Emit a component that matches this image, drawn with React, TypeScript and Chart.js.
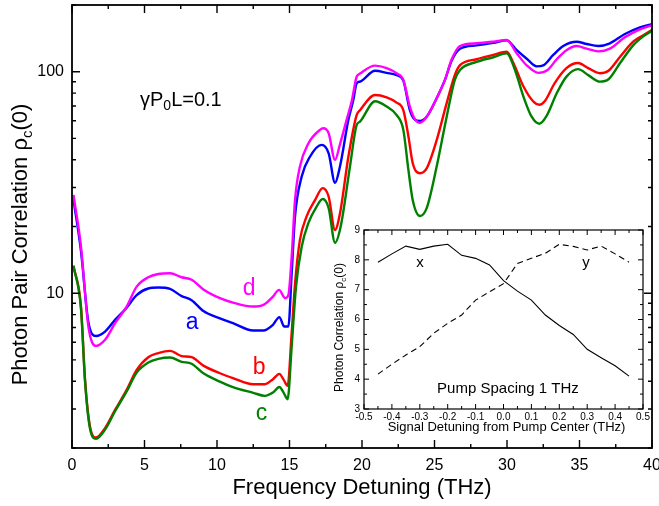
import React, { useEffect, useRef } from 'react';
import { Chart, registerables } from 'chart.js';

Chart.register(...registerables);

const FONT = '"Liberation Sans", Arial, Helvetica, sans-serif';

// ---------- main chart data (Frequency detuning, THz) ----------
// curve d (magenta)
const dX = [0.1, 0.62, 1.13, 1.66, 2.28, 2.97, 3.77, 4.46, 5.26, 5.95, 6.76, 7.56, 8.25, 9.06, 10.2, 11.1, 12.5, 13.2, 13.86, 14.28, 14.7, 14.92, 15.15, 15.38, 15.72, 16.3, 17.1, 17.33, 17.7, 18.14, 18.48, 18.94, 19.3, 19.63, 19.86, 20.9, 21.7, 22.39, 22.85, 23.3, 23.66, 24.0, 24.46, 25.15, 25.72, 26.18, 26.76, 27.9, 29.06, 29.98, 30.67, 31.36, 32.16, 32.8, 33.43, 34.1, 34.8, 35.5, 36.3, 37.1, 38.1, 39.17, 39.98];
const dY = [27.8, 16.2, 7.06, 5.78, 6.16, 7.32, 8.7, 10.7, 11.8, 12.2, 12.3, 11.8, 11.5, 10.4, 9.5, 9.07, 8.7, 8.85, 9.65, 10.35, 9.5, 9.8, 14.6, 26.3, 37.3, 47.4, 54.6, 55.5, 52.7, 40, 47, 60.6, 74, 94.9, 98, 106.5, 103.8, 98.4, 91.8, 69.6, 60.9, 58.8, 62.6, 75.9, 91.8, 113.4, 130.6, 134.3, 136.6, 138.9, 121, 106.8, 98.8, 101.7, 113.8, 125, 130.6, 127, 123.5, 127, 142.7, 155.3, 162];
// curve a (blue)
const aX = [0.1, 0.62, 1.13, 1.66, 2.28, 2.97, 3.77, 4.46, 5.26, 5.95, 6.76, 7.56, 8.25, 9.06, 10.2, 11.1, 12.5, 13.2, 13.86, 14.3, 14.64, 14.92, 15.15, 15.38, 15.84, 16.41, 17.22, 17.7, 18.14, 18.48, 19.06, 19.4, 19.63, 19.86, 20.9, 21.7, 22.39, 22.85, 23.3, 23.66, 24.0, 24.46, 25.15, 25.72, 26.18, 26.76, 27.9, 29.06, 29.98, 30.67, 31.36, 32.05, 32.5, 33.19, 33.88, 34.8, 35.5, 36.3, 37.1, 38.1, 39.17, 39.98];
const aY = [26.5, 15.5, 7.4, 6.41, 6.71, 7.58, 8.6, 9.8, 10.5, 10.6, 10.45, 9.7, 9.3, 8.3, 7.7, 7.32, 6.78, 6.78, 7.2, 7.8, 7.07, 7.07, 12.3, 22.2, 33.6, 41.3, 46.7, 42.8, 31.5, 37.3, 60.6, 74.5, 88.6, 90.2, 100.9, 98.8, 96.5, 91.1, 67, 60.6, 59.9, 62.6, 75.9, 91.8, 112, 127, 131.5, 135, 138.4, 125, 114.4, 105.7, 106.8, 119, 130.6, 136.6, 133.3, 130.6, 134.3, 147.6, 158.5, 164];
// curve b (red)
const bX = [0.1, 0.62, 0.9, 1.24, 1.66, 2.28, 2.97, 3.77, 4.46, 5.26, 5.95, 6.76, 7.56, 8.25, 9.06, 10.2, 11.1, 12.5, 13.3, 13.86, 14.3, 14.6, 14.87, 15.15, 15.38, 15.72, 16.18, 16.76, 17.29, 17.7, 18.14, 18.48, 19.06, 19.63, 19.86, 20.9, 21.7, 22.39, 22.85, 23.2, 23.5, 24.0, 24.46, 25.15, 25.84, 26.4, 26.76, 27.9, 29.06, 29.98, 30.44, 31.13, 31.8, 32.23, 32.6, 33.28, 34.1, 34.9, 35.6, 36.4, 37.0, 37.8, 38.7, 39.4, 39.98];
const bY = [13.3, 8.7, 4.06, 2.5, 2.23, 2.46, 2.97, 3.66, 4.5, 5.14, 5.36, 5.49, 5.2, 5.14, 4.71, 4.35, 4.14, 3.88, 3.88, 4.09, 4.32, 4.06, 3.82, 6.6, 11.0, 17.4, 22.2, 26.3, 29.8, 27.3, 19.3, 22.9, 41.3, 63.7, 67, 78.5, 76.6, 72.5, 67, 51.1, 38.6, 34.8, 36.6, 49.1, 72.1, 96.5, 107, 113.8, 119, 123, 109.4, 85.9, 73.5, 70.9, 73.5, 88.6, 103.8, 109.4, 103.8, 98.4, 101, 116.8, 136.6, 146, 154];
// curve c (green)
const cX = [0.1, 0.62, 0.9, 1.24, 1.66, 2.28, 2.97, 3.77, 4.46, 5.26, 5.95, 6.76, 7.56, 8.25, 9.06, 10.2, 11.1, 12.5, 13.3, 13.86, 14.3, 14.6, 14.87, 15.15, 15.45, 15.84, 16.3, 16.87, 17.29, 17.7, 18.14, 18.53, 19.17, 19.63, 19.86, 20.9, 21.7, 22.39, 22.85, 23.2, 23.5, 24.0, 24.46, 25.15, 25.84, 26.4, 26.76, 27.9, 29.06, 29.98, 30.55, 31.13, 31.7, 32.23, 32.7, 33.43, 34.1, 34.9, 35.6, 36.4, 37.0, 37.8, 38.7, 39.4, 39.98];
const cY = [13.3, 8.5, 4.0, 2.45, 2.2, 2.42, 2.93, 3.6, 4.38, 4.86, 5.05, 5.12, 4.9, 4.8, 4.35, 3.99, 3.77, 3.55, 3.44, 3.56, 3.77, 3.55, 3.32, 5.74, 10.7, 16.2, 20.7, 24.6, 26.6, 24.2, 16.9, 20.0, 37.3, 57.4, 59.5, 73.5, 69.6, 63.7, 54.6, 36.0, 26.3, 22.3, 24.2, 37.3, 62.6, 91.8, 101.7, 110.7, 116.2, 121, 101.7, 77.3, 62.6, 58.2, 62.6, 79.9, 95, 102.7, 96.5, 90.2, 92.4, 109.4, 131.5, 144.3, 152.6];

const mainXTicks = [0, 5, 10, 15, 20, 25, 30, 35, 40];
const mainXMinor = [2.5, 7.5, 12.5, 17.5, 22.5, 27.5, 32.5, 37.5];
const mainYTicks = [10, 100];
const mainYMinor = [2, 3, 4, 5, 6, 7, 8, 9, 20, 30, 40, 50, 60, 70, 80, 90, 200];

// ---------- inset data ----------
const insetX = [-0.45, -0.4, -0.35, -0.3, -0.25, -0.2, -0.15, -0.1, -0.05, 0, 0.05, 0.1, 0.15, 0.2, 0.25, 0.3, 0.35, 0.4, 0.45];
const insetSolidX = [7.92, 8.2, 8.46, 8.35, 8.46, 8.52, 8.15, 8.05, 7.83, 7.3, 6.95, 6.65, 6.15, 5.8, 5.5, 5.0, 4.72, 4.45, 4.1];
const insetDashedY = [4.17, 4.5, 4.81, 5.09, 5.54, 5.87, 6.15, 6.65, 6.93, 7.2, 7.88, 8.05, 8.22, 8.52, 8.45, 8.33, 8.46, 8.2, 7.92];

const insetXTicks = [-0.5, -0.4, -0.3, -0.2, -0.1, 0, 0.1, 0.2, 0.3, 0.4, 0.5];
const insetXMinor = [-0.45, -0.35, -0.25, -0.15, -0.05, 0.05, 0.15, 0.25, 0.35, 0.45];
const insetYTicks = [3, 4, 5, 6, 7, 8, 9];
const insetYMinor = [3.5, 4.5, 5.5, 6.5, 7.5, 8.5];

const zip = (xs: number[], ys: number[]) => xs.map((x, i) => ({ x, y: ys[i] }));

type Part = { t: string; sub?: boolean };

function drawRich(ctx: CanvasRenderingContext2D, parts: Part[], x: number, y: number, size: number, align: 'left' | 'center') {
  const fontFor = (p: Part) => `${p.sub ? Math.round(size * 0.68) : size}px ${FONT}`;
  const widths = parts.map((p) => {
    ctx.font = fontFor(p);
    return ctx.measureText(p.t).width;
  });
  const total = widths.reduce((s, w) => s + w, 0);
  let cx = align === 'center' ? x - total / 2 : x;
  ctx.textAlign = 'left';
  ctx.textBaseline = 'alphabetic';
  parts.forEach((p, i) => {
    ctx.font = fontFor(p);
    ctx.fillText(p.t, cx, p.sub ? y + size * 0.22 : y);
    cx += widths[i];
  });
}

function drawFrameTicks(chart: any, xMaj: number[], xMin: number[], yMaj: number[], yMin: number[], majLen: number, minLen: number, frameW: number, tickW: number) {
  const ctx: CanvasRenderingContext2D = chart.ctx;
  const a = chart.chartArea;
  const sx = chart.scales.x;
  const sy = chart.scales.y;
  ctx.save();
  ctx.strokeStyle = '#000';
  ctx.lineWidth = frameW;
  ctx.strokeRect(a.left, a.top, a.right - a.left, a.bottom - a.top);
  ctx.lineWidth = tickW;
  ctx.beginPath();
  const xt = (v: number, len: number) => {
    const p = sx.getPixelForValue(v);
    ctx.moveTo(p, a.bottom);
    ctx.lineTo(p, a.bottom - len);
    ctx.moveTo(p, a.top);
    ctx.lineTo(p, a.top + len);
  };
  const yt = (v: number, len: number) => {
    const p = sy.getPixelForValue(v);
    ctx.moveTo(a.left, p);
    ctx.lineTo(a.left + len, p);
    ctx.moveTo(a.right, p);
    ctx.lineTo(a.right - len, p);
  };
  xMaj.forEach((v) => xt(v, majLen));
  xMin.forEach((v) => xt(v, minLen));
  yMaj.forEach((v) => yt(v, majLen));
  yMin.forEach((v) => yt(v, minLen));
  ctx.stroke();
  ctx.restore();
}

const curveLabels = [
  { text: 'd', color: '#ff00ff', x: 12.21, y: 9.82 },
  { text: 'a', color: '#0000ff', x: 8.28, y: 6.9 },
  { text: 'b', color: '#ff0000', x: 12.9, y: 4.32 },
  { text: 'c', color: '#008000', x: 13.07, y: 2.68 },
];

const mainDecor = {
  id: 'mainDecor',
  afterDraw(chart: any) {
    drawFrameTicks(chart, mainXTicks, mainXMinor, mainYTicks, mainYMinor, 8, 4, 1.8, 1.4);
    const ctx: CanvasRenderingContext2D = chart.ctx;
    const a = chart.chartArea;
    const sx = chart.scales.x;
    const sy = chart.scales.y;
    ctx.save();
    ctx.fillStyle = '#000';
    drawRich(ctx, [{ t: 'Frequency Detuning (THz)' }], (a.left + a.right) / 2, a.bottom + 46, 22, 'center');
    ctx.save();
    ctx.translate(27, (a.top + a.bottom) / 2 + 18);
    ctx.rotate(-Math.PI / 2);
    drawRich(ctx, [{ t: 'Photon Pair Correlation ρ' }, { t: 'c', sub: true }, { t: '(0)' }], 0, 0, 22, 'center');
    ctx.restore();
    drawRich(ctx, [{ t: 'γP' }, { t: '0', sub: true }, { t: 'L=0.1' }], sx.getPixelForValue(4.69), sy.getPixelForValue(70), 20, 'left');
    curveLabels.forEach((l) => {
      ctx.fillStyle = l.color;
      drawRich(ctx, [{ t: l.text }], sx.getPixelForValue(l.x), sy.getPixelForValue(l.y), 23, 'center');
    });
    ctx.restore();
  },
};

const insetDecor = {
  id: 'insetDecor',
  afterDraw(chart: any) {
    drawFrameTicks(chart, insetXTicks, insetXMinor, insetYTicks, insetYMinor, 5, 3, 1.2, 1);
    const ctx: CanvasRenderingContext2D = chart.ctx;
    const a = chart.chartArea;
    const sx = chart.scales.x;
    const sy = chart.scales.y;
    ctx.save();
    ctx.fillStyle = '#000';
    drawRich(ctx, [{ t: 'Signal Detuning from Pump Center (THz)' }], (a.left + a.right) / 2 + 3, a.bottom + 22, 13, 'center');
    ctx.save();
    ctx.translate(a.left - 21, (a.top + a.bottom) / 2 + 8);
    ctx.rotate(-Math.PI / 2);
    drawRich(ctx, [{ t: 'Photon Correlation ρ' }, { t: 'c', sub: true }, { t: '(0)' }], 0, 0, 12, 'center');
    ctx.restore();
    drawRich(ctx, [{ t: 'Pump Spacing 1 THz' }], sx.getPixelForValue(0.016), sy.getPixelForValue(3.54), 15, 'center');
    drawRich(ctx, [{ t: 'x' }], sx.getPixelForValue(-0.299), sy.getPixelForValue(7.76), 15, 'center');
    drawRich(ctx, [{ t: 'y' }], sx.getPixelForValue(0.296), sy.getPixelForValue(7.76), 15, 'center');
    ctx.restore();
  },
};

export default function App() {
  const mainRef = useRef<HTMLCanvasElement>(null);
  const insetRef = useRef<HTMLCanvasElement>(null);

  useEffect(() => {
    document.body.style.margin = '0';
    document.body.style.overflow = 'hidden';
    const lineDs = (label: string, xs: number[], ys: number[], color: string) => ({
      label,
      data: zip(xs, ys),
      borderColor: color,
      borderWidth: 2.4,
      pointRadius: 0,
      fill: false,
      cubicInterpolationMode: 'monotone' as const,
    });
    const main = new Chart(mainRef.current!, {
      type: 'line',
      data: {
        datasets: [
          lineDs('c', cX, cY, '#008000'),
          lineDs('b', bX, bY, '#ff0000'),
          lineDs('d', dX, dY, '#ff00ff'),
          lineDs('a', aX, aY, '#0000ff'),
        ],
      },
      options: {
        responsive: false,
        animation: false,
        devicePixelRatio: 1,
        layout: { padding: { top: 5, right: 7, left: 0, bottom: 0 } },
        plugins: { legend: { display: false }, tooltip: { enabled: false } },
        scales: {
          x: {
            type: 'linear',
            min: 0,
            max: 40,
            grid: { display: false, drawTicks: false },
            border: { display: false },
            afterBuildTicks: (s: any) => {
              s.ticks = mainXTicks.map((v) => ({ value: v }));
            },
            ticks: { font: { family: FONT, size: 16 }, color: '#000', padding: 8, maxRotation: 0, autoSkip: false },
            afterFit: (s: any) => {
              s.height = 58;
              s.paddingLeft = 0;
              s.paddingRight = 0;
            },
          },
          y: {
            type: 'logarithmic',
            min: 2,
            max: 200,
            grid: { display: false, drawTicks: false },
            border: { display: false },
            afterBuildTicks: (s: any) => {
              s.ticks = mainYTicks.map((v) => ({ value: v }));
            },
            ticks: { font: { family: FONT, size: 16 }, color: '#000', padding: 8, autoSkip: false, callback: (v: any) => String(v) },
            afterFit: (s: any) => {
              s.width = 72;
              s.paddingTop = 0;
              s.paddingBottom = 0;
            },
          },
        },
      },
      plugins: [mainDecor],
    } as any);

    const inset = new Chart(insetRef.current!, {
      type: 'line',
      data: {
        datasets: [
          {
            label: 'x',
            data: zip(insetX, insetSolidX),
            borderColor: '#000',
            borderWidth: 1.1,
            pointRadius: 0,
            fill: false,
          },
          {
            label: 'y',
            data: zip(insetX, insetDashedY),
            borderColor: '#000',
            borderWidth: 1.1,
            borderDash: [6, 4],
            pointRadius: 0,
            fill: false,
          },
        ],
      },
      options: {
        responsive: false,
        animation: false,
        devicePixelRatio: 1,
        layout: { padding: { top: 15, right: 12, left: 0, bottom: 0 } },
        plugins: { legend: { display: false }, tooltip: { enabled: false } },
        scales: {
          x: {
            type: 'linear',
            min: -0.5,
            max: 0.5,
            grid: { display: false, drawTicks: false },
            border: { display: false },
            afterBuildTicks: (s: any) => {
              s.ticks = insetXTicks.map((v) => ({ value: v }));
            },
            ticks: {
              font: { family: FONT, size: 10 },
              color: '#000',
              padding: 2,
              maxRotation: 0,
              autoSkip: false,
              callback: (v: any) => Number(v).toFixed(1),
            },
            afterFit: (s: any) => {
              s.height = 36;
              s.paddingLeft = 0;
              s.paddingRight = 0;
            },
          },
          y: {
            type: 'linear',
            min: 3,
            max: 9,
            grid: { display: false, drawTicks: false },
            border: { display: false },
            afterBuildTicks: (s: any) => {
              s.ticks = insetYTicks.map((v) => ({ value: v }));
            },
            ticks: { font: { family: FONT, size: 10 }, color: '#000', padding: 4, autoSkip: false },
            afterFit: (s: any) => {
              s.width = 44;
              s.paddingTop = 0;
              s.paddingBottom = 0;
            },
          },
        },
      },
      plugins: [insetDecor],
    } as any);

    return () => {
      main.destroy();
      inset.destroy();
    };
  }, []);

  return (
    <div style={{ position: 'relative', width: 659, height: 506, background: '#fff', overflow: 'hidden' }}>
      <canvas ref={mainRef} width={659} height={506} style={{ position: 'absolute', left: 0, top: 0, width: 659, height: 506 }} />
      <canvas ref={insetRef} width={335} height={230} style={{ position: 'absolute', left: 320, top: 215, width: 335, height: 230 }} />
    </div>
  );
}
